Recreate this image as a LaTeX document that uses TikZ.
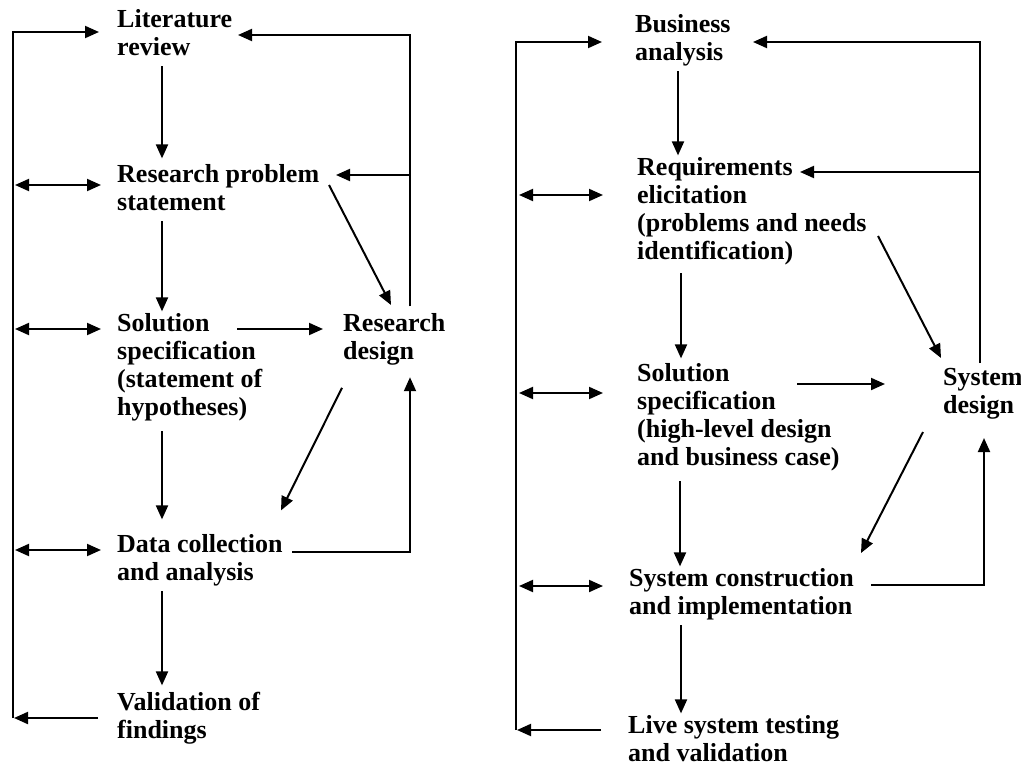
\documentclass[tikz,border=0pt]{standalone}
\usepackage{fontspec}
\setmainfont{Liberation Serif}
\usetikzlibrary{arrows.meta}

\begin{document}
\begin{tikzpicture}[x=1pt,y=-1pt,
  box/.style={anchor=north west, align=left, inner xsep=0pt, inner ysep=2pt,
    font=\fontsize{26}{28}\selectfont\bfseries,
    execute at begin node=\strut, execute at end node=\strut},
  arr/.style={line width=2pt, -{Triangle[length=14pt,width=12pt]}},
  dbl/.style={line width=2pt, {Triangle[length=14pt,width=12pt]}-{Triangle[length=14pt,width=12pt]}}]
\useasboundingbox (0,0) rectangle (1021,766);

% research process
\node[box] (lit) at (117,7.4) {Literature\\review};
\node[box] (rps) at (117,162.4) {Research problem\\statement};
\node[box] (sol) at (117,311.4) {Solution\\specification\\(statement of\\hypotheses)};
\node[box] (rd) at (343,311.4) {Research\\design};
\node[box] (dat) at (117,532.4) {Data collection\\and analysis};
\node[box] (val) at (117,690.4) {Validation of\\findings};

\coordinate (fLt) at (13,32);
\coordinate (fLb) at (13,718);

\draw [arr] (fLb) -- (fLt) -- ([shift={(-18,24.6)}]lit.north west);
\draw [arr, shorten >=1pt] ([shift={(-19,27.6)}]val.north west) -- (fLb);
\draw [dbl] ([shift={(-16,22.6)}]rps.north west) -- ++(-86,0);
\draw [dbl] ([shift={(-16,17.6)}]sol.north west) -- ++(-86,0);
\draw [dbl] ([shift={(-16,17.6)}]dat.north west) -- ++(-86,0);

\draw [arr] ([xshift=45pt]lit.south west) -- ([shift={(45,-4)}]rps.north west);
\draw [arr] ([xshift=45pt]rps.south west) -- ([xshift=45pt]sol.north west);
\draw [arr] ([shift={(45,5)}]sol.south west) -- ([shift={(45,-13)}]dat.north west);
\draw [arr] ([xshift=45pt]dat.south west) -- ([shift={(45,-5)}]val.north west);

\draw [arr] ([shift={(120,17.6)}]sol.north west) -- ([shift={(-20,17.6)}]rd.north west);
\draw [arr] ([shift={(212,22.6)}]rps.north west) -- ([shift={(48,-6.4)}]rd.north west);
\draw [arr] ([shift={(-1,17.6)}]rd.south west) -- ([shift={(164,-22)}]dat.north west);
\draw [arr] ([shift={(175,19.6)}]dat.north west) -| ([shift={(67,7)}]rd.south west);
\draw [arr] ([shift={(67,-5)}]rd.north west) |- ([shift={(121,27.6)}]lit.north west);
\draw [arr] ([shift={(67,-136.4)}]rd.north west) -- ([shift={(219,12.6)}]rps.north west);

% development process
\node[box] (bus) at (635,12.4) {Business\\analysis};
\node[box] (req) at (637,155.4) {Requirements\\elicitation\\(problems and needs\\identification)};
\node[box] (spc) at (637,361.4) {Solution\\specification\\(high-level design\\and business case)};
\node[box] (sys) at (943,366.4) {System\\design};
\node[box] (con) at (629,566.4) {System construction\\and implementation};
\node[box] (liv) at (628,713.4) {Live system testing\\and validation};

\coordinate (fRt) at (516,42);
\coordinate (fRb) at (516,730);

\draw [arr] (fRb) -- (fRt) -- ([shift={(-33,29.6)}]bus.north west);
\draw [arr, shorten >=1pt] ([shift={(-27,16.6)}]liv.north west) -- (fRb);
\draw [dbl] ([shift={(-34,39.6)}]req.north west) -- ++(-84,0);
\draw [dbl] ([shift={(-34,31.6)}]spc.north west) -- ++(-84,0);
\draw [dbl] ([shift={(-26,19.6)}]con.north west) -- ++(-84,0);

\draw [arr] ([xshift=43pt]bus.south west) -- ([xshift=41pt]req.north west);
\draw [arr] ([shift={(44,3)}]req.south west) -- ([shift={(44,-3)}]spc.north west);
\draw [arr] ([shift={(43,5)}]spc.south west) -- ([xshift=51pt]con.north west);
\draw [arr] ([xshift=52pt]con.south west) -- ([xshift=53pt]liv.north west);

\draw [arr] ([shift={(160,22.6)}]spc.north west) -- ([shift={(-58,17.6)}]sys.north west);
\draw [arr] ([shift={(241,80.6)}]req.north west) -- ([shift={(-2,-8.4)}]sys.north west);
\draw [arr] ([shift={(-20,7.6)}]sys.south west) -- ([shift={(232,-13.4)}]con.north west);
\draw [arr] ([shift={(242,18.6)}]con.north west) -| ([shift={(41,13.6)}]sys.south west);
\draw [arr] ([shift={(37,-3.4)}]sys.north west) |- ([shift={(118,29.6)}]bus.north west);
\draw [arr] ([shift={(37,-194.4)}]sys.north west) -- ([shift={(163,16.6)}]req.north west);
\end{tikzpicture}
\end{document}
